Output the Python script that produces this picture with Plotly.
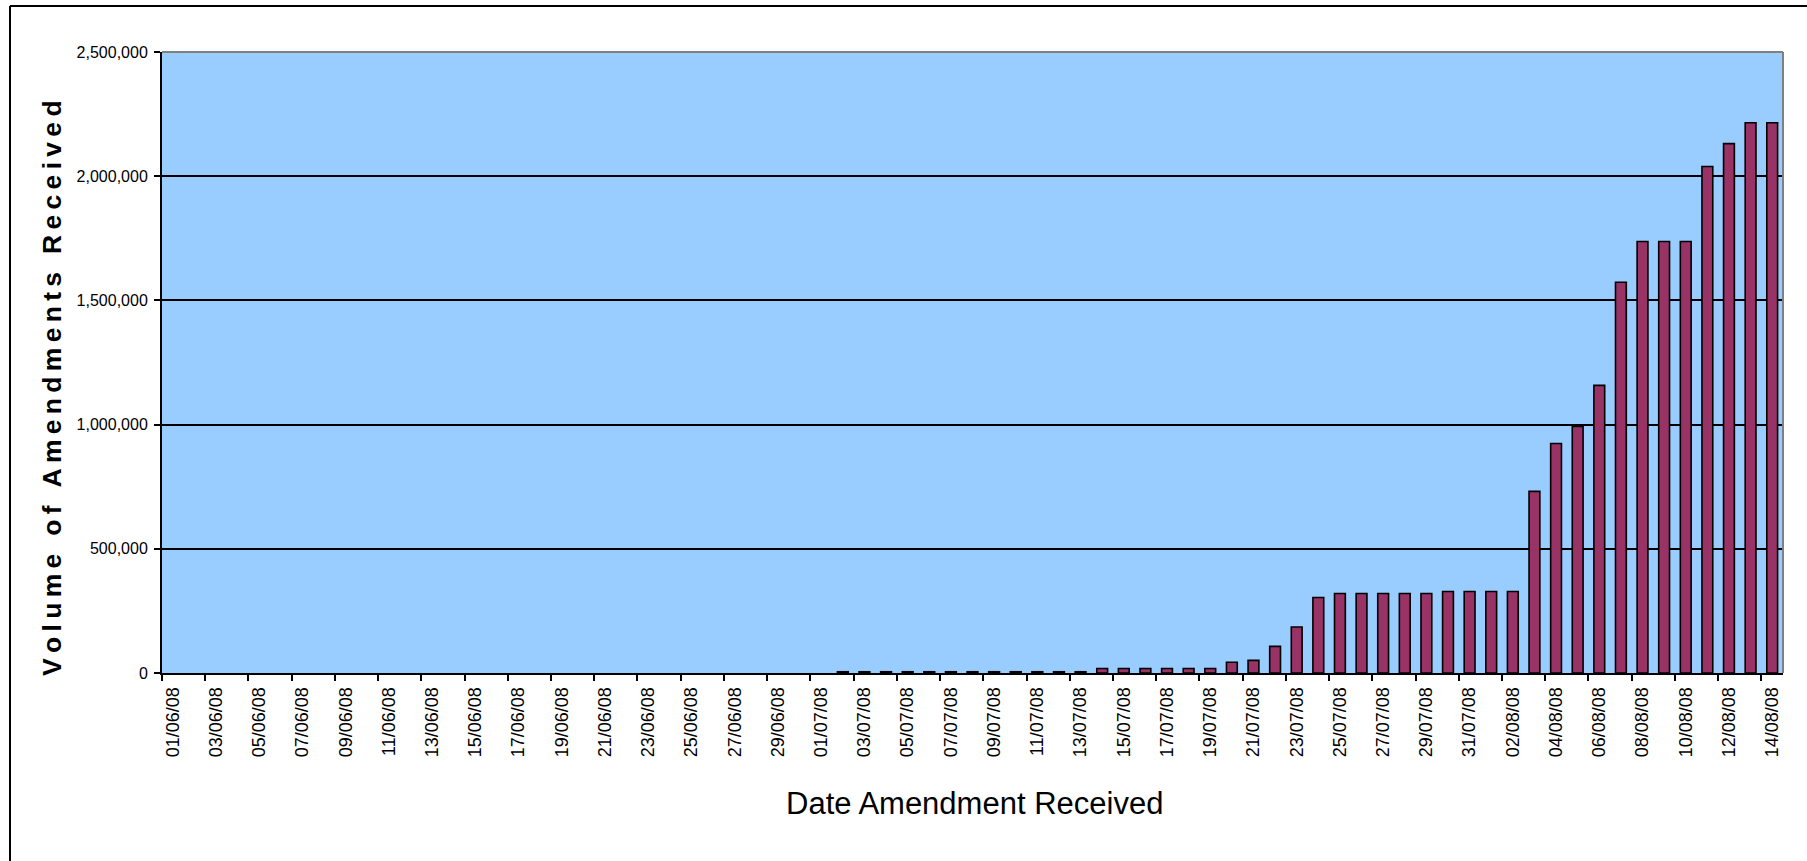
import plotly.graph_objects as go
import pandas as pd

# ---- data ----
dates = [d.strftime("%d/%m/%y") for d in pd.date_range("2008-06-01", "2008-08-14", freq="D")]
volumes = (
    [0] * 31
    + [5000] * 12
    + [18000] * 6
    + [43000, 51000, 107000, 185000, 304000]
    + [320000] * 5
    + [328000] * 4
    + [731000, 924000, 993000, 1158000, 1573000]
    + [1737000] * 3
    + [2039000, 2131000, 2215000, 2215000]
)
y_ticks = [0, 500000, 1000000, 1500000, 2000000, 2500000]
x_title = "Date Amendment Received"
y_title = "Volume of Amendments Received"

idx = list(range(len(dates)))
label_idx = idx[::2]
label_txt = [dates[i] for i in label_idx]
boundaries = [i - 0.5 for i in label_idx]

FONT_REG = "Liberation Sans, Arial, sans-serif"

fig = go.Figure()
fig.add_trace(go.Bar(
    x=idx, y=volumes,
    marker=dict(color="#993366",
                line=dict(color="black", width=[0 if v == 0 else 1.6 for v in volumes])),
    hoverinfo="skip",
))

L, T, R, B = 162, 52, 24, 188
W, H = 1807, 861
pw, ph = W - L - R, H - T - B

def px_x(px):
    return (px - L) / pw

def px_y(py):
    return (H - B - py) / ph

fig.update_layout(
    width=W, height=H,
    margin=dict(l=L, r=R, t=T, b=B, pad=0),
    paper_bgcolor="white",
    plot_bgcolor="#99CCFF",
    bargap=0.5,
    showlegend=False,
    font=dict(family=FONT_REG, color="black"),
    xaxis=dict(
        range=[-0.5, len(dates) - 0.5],
        tickmode="array", tickvals=label_idx, ticktext=label_txt,
        tickangle=-90, ticks="", showgrid=False, zeroline=False,
        tickfont=dict(family=FONT_REG, size=18, color="black"),
        showline=True, linecolor="black", linewidth=2,
        ticklabelstandoff=5,
        minor=dict(tickmode="array", tickvals=boundaries, ticks="outside",
                   ticklen=6, tickwidth=2, tickcolor="black", showgrid=False),
        mirror=False,
    ),
    yaxis=dict(
        range=[0, 2500000],
        tickmode="array", tickvals=y_ticks, tickformat=",d",
        showgrid=True, gridcolor="black", gridwidth=2,
        zeroline=False,
        showline=True, linecolor="black", linewidth=2,
        ticks="outside", ticklen=6, tickwidth=2, tickcolor="black",
        tickfont=dict(family=FONT_REG, size=16, color="black"),
        ticklabelstandoff=3,
    ),
    shapes=[
        dict(type="line", xref="paper", yref="paper", x0=0, x1=1, y0=1, y1=1,
             line=dict(color="#808080", width=2)),
        dict(type="line", xref="paper", yref="paper", x0=1, x1=1, y0=0, y1=1,
             line=dict(color="#808080", width=2)),
        dict(type="line", xref="paper", yref="paper", x0=px_x(10), x1=px_x(10),
             y0=px_y(6), y1=px_y(H + 5), line=dict(color="black", width=2)),
        dict(type="line", xref="paper", yref="paper", x0=px_x(10), x1=px_x(W + 5),
             y0=px_y(6), y1=px_y(6), line=dict(color="black", width=2)),
    ],
    annotations=[
        dict(text=x_title, xref="paper", yref="paper", x=px_x(974), y=px_y(803),
             xanchor="center", yanchor="middle", showarrow=False,
             font=dict(family=FONT_REG, size=31, color="black")),
        dict(text="\u2009".join(list(y_title)), xref="paper", yref="paper",
             x=px_x(52), y=px_y(388), textangle=-90,
             xanchor="center", yanchor="middle", showarrow=False,
             font=dict(family=FONT_REG, size=26.5, color="black", weight="bold")),
    ],
)

fig.write_html(
    "out.html",
    config={"displayModeBar": False},
    post_script="document.body.style.margin='0px';document.body.style.overflow='hidden';",
)
